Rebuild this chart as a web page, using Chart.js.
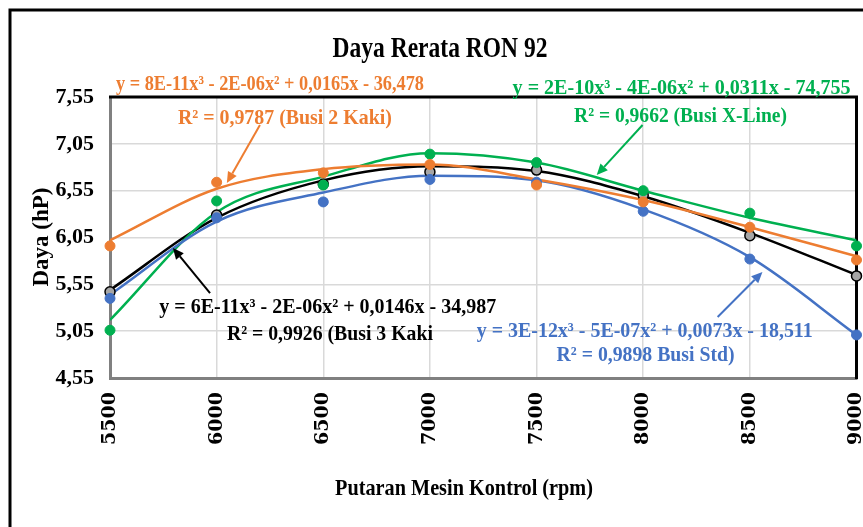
<!DOCTYPE html>
<html>
<head>
<meta charset="utf-8">
<script src="https://cdn.jsdelivr.net/npm/chart.js@4/dist/chart.umd.min.js"></script>
<style>
body { margin: 0; background: #fff; }
</style>
</head>
<body>
<canvas id="grafik" width="863" height="527"></canvas>
<script>
// Putaran mesin (rpm) dan label sumbu Y
var rpm = [5500, 6000, 6500, 7000, 7500, 8000, 8500, 9000];
var yTicks = [4.55, 5.05, 5.55, 6.05, 6.55, 7.05, 7.55];

// Daya rerata (hP) per jenis busi
var busi2Kaki = [5.96, 6.64, 6.74, 6.83, 6.61, 6.43, 6.16, 5.81];
var busiXLine = [5.06, 6.44, 6.61, 6.94, 6.85, 6.55, 6.31, 5.96];
var busi3Kaki = [5.47, 6.29, 6.62, 6.75, 6.77, 6.50, 6.07, 5.64];
var busiStd   = [5.40, 6.26, 6.43, 6.67, 6.64, 6.33, 5.82, 5.01];

// Garis trend polinomial
var trend2Kaki = [6.02, 6.57, 6.78, 6.83, 6.67, 6.45, 6.16, 5.85];
var trendXLine = [5.17, 6.32, 6.70, 6.95, 6.85, 6.55, 6.26, 6.02];
var trend3Kaki = [5.49, 6.26, 6.66, 6.81, 6.76, 6.49, 6.10, 5.65];
var trendStd   = [5.44, 6.22, 6.53, 6.71, 6.66, 6.35, 5.84, 5.01];

var ORANYE = "#ED7D31";
var HIJAU = "#00B050";
var HITAM = "#000000";
var BIRU = "#4472C4";
var SERIF = "'Liberation Serif', 'Times New Roman', serif";

// Teks persamaan (posisi dalam satuan rpm / hP)
var persamaan = [
    { teks: "y = 8E-11x³ - 2E-06x² + 0,0165x - 36,478", warna: ORANYE, x: 6250, y: 7.625, lebar: 308 },
    { teks: "R² = 0,9787 (Busi 2 Kaki)", warna: ORANYE, x: 6320, y: 7.262, lebar: 214 },
    { teks: "y = 2E-10x³ - 4E-06x² + 0,0311x - 74,755", warna: HIJAU, x: 8180, y: 7.582, lebar: 338 },
    { teks: "R² = 0,9662 (Busi X-Line)", warna: HIJAU, x: 8175, y: 7.283, lebar: 213 },
    { teks: "y = 6E-11x³ - 2E-06x² + 0,0146x - 34,987", warna: HITAM, x: 6521, y: 5.244, lebar: 337 },
    { teks: "R² = 0,9926 (Busi 3 Kaki", warna: HITAM, x: 6531, y: 4.956, lebar: 206 },
    { teks: "y = 3E-12x³ - 5E-07x² + 0,0073x - 18,511", warna: BIRU, x: 8007, y: 4.988, lebar: 336 },
    { teks: "R² = 0,9898 Busi Std)", warna: BIRU, x: 8011, y: 4.73, lebar: 178 }
];

// Panah penunjuk garis trend
var panah = [
    { warna: ORANYE, dari: [6203, 7.251], ke: [6048, 6.632] },
    { warna: HIJAU, dari: [7997, 7.251], ke: [7782, 6.717] },
    { warna: HITAM, dari: [5969, 5.457], ke: [5795, 5.938] },
    { warna: BIRU, dari: [8349, 5.201], ke: [8559, 5.682] }
];

function pasangkan(nilai) {
    return nilai.map(function (v, i) { return { x: rpm[i], y: v }; });
}

function datasetTitik(nilai, warna, isi) {
    return {
        type: "line",
        data: pasangkan(nilai),
        showLine: false,
        pointRadius: 5,
        pointBorderWidth: isi ? 1.5 : 1,
        pointBackgroundColor: isi || warna,
        pointBorderColor: warna,
        clip: false,
        order: 0
    };
}

function datasetTrend(nilai, warna) {
    return {
        type: "line",
        data: pasangkan(nilai),
        borderColor: warna,
        borderWidth: 2.5,
        pointRadius: 0,
        cubicInterpolationMode: "monotone",
        order: 1
    };
}

function gambarPanah(ctx, x1, y1, x2, y2, warna) {
    var sudut = Math.atan2(y2 - y1, x2 - x1);
    var p = 11, l = 5;
    ctx.strokeStyle = warna;
    ctx.fillStyle = warna;
    ctx.lineWidth = 2;
    ctx.beginPath();
    ctx.moveTo(x1, y1);
    ctx.lineTo(x2 - Math.cos(sudut) * p, y2 - Math.sin(sudut) * p);
    ctx.stroke();
    ctx.beginPath();
    ctx.moveTo(x2, y2);
    ctx.lineTo(x2 - Math.cos(sudut) * p - Math.sin(sudut) * l, y2 - Math.sin(sudut) * p + Math.cos(sudut) * l);
    ctx.lineTo(x2 - Math.cos(sudut) * p + Math.sin(sudut) * l, y2 - Math.sin(sudut) * p - Math.cos(sudut) * l);
    ctx.closePath();
    ctx.fill();
}

var pluginGambar = {
    id: "gambar",
    beforeDatasetsDraw: function (chart) {
        var ctx = chart.ctx, a = chart.chartArea;
        ctx.save();
        ctx.strokeStyle = "#000";
        ctx.lineWidth = 3;
        ctx.beginPath();
        ctx.moveTo(a.left - 1, a.top);
        ctx.lineTo(a.right, a.top);
        ctx.lineTo(a.right, a.bottom + 1);
        ctx.stroke();
        ctx.restore();
    },
    afterDraw: function (chart) {
        var ctx = chart.ctx;
        var sx = chart.scales.x, sy = chart.scales.y;
        ctx.save();
        // bingkai luar
        ctx.strokeStyle = "#000";
        ctx.lineWidth = 3;
        ctx.strokeRect(10, 10, 900, 600);

        // judul
        ctx.fillStyle = "#000";
        ctx.textAlign = "center";
        ctx.textBaseline = "alphabetic";
        ctx.font = "bold 29px " + SERIF;
        ctx.fillText("Daya Rerata RON 92", 440, 57, 215);

        // judul sumbu X
        ctx.font = "bold 23px " + SERIF;
        ctx.fillText("Putaran Mesin Kontrol (rpm)", 464, 495, 258);

        // judul sumbu Y
        ctx.save();
        ctx.translate(48, 237);
        ctx.rotate(-Math.PI / 2);
        ctx.font = "bold 23px " + SERIF;
        ctx.fillText("Daya (hP)", 0, 0, 113);
        ctx.restore();

        // panah
        panah.forEach(function (p) {
            gambarPanah(ctx,
                sx.getPixelForValue(p.dari[0]), sy.getPixelForValue(p.dari[1]),
                sx.getPixelForValue(p.ke[0]), sy.getPixelForValue(p.ke[1]), p.warna);
        });

        // persamaan trend
        ctx.font = "bold 22px " + SERIF;
        persamaan.forEach(function (e) {
            ctx.fillStyle = e.warna;
            ctx.fillText(e.teks, sx.getPixelForValue(e.x), sy.getPixelForValue(e.y), e.lebar);
        });
        ctx.restore();
    }
};

var ctx = document.getElementById("grafik");
var chart = new Chart(ctx, {
    type: "line",
    data: {
        datasets: [
            datasetTitik(busi2Kaki, ORANYE),
            datasetTitik(busiXLine, HIJAU),
            datasetTitik(busiStd, BIRU),
            datasetTitik(busi3Kaki, HITAM, "#a6a6a6"),
            datasetTrend(trend2Kaki, ORANYE),
            datasetTrend(trendStd, BIRU),
            datasetTrend(trendXLine, HIJAU),
            datasetTrend(trend3Kaki, HITAM)
        ]
    },
    options: {
        responsive: false,
        animation: false,
        layout: { padding: { top: 97, right: 6, left: 0, bottom: 0 } },
        plugins: {
            legend: { display: false },
            title: { display: false },
            tooltip: { enabled: false }
        },
        scales: {
            x: {
                type: "linear",
                min: 5500,
                max: 9000,
                afterBuildTicks: function (s) {
                    s.ticks = rpm.map(function (v) { return { value: v }; });
                },
                afterFit: function (s) {
                    s.height = 149;
                    s.paddingLeft = 0;
                    s.paddingRight = 0;
                },
                ticks: {
                    autoSkip: false,
                    minRotation: 90,
                    maxRotation: 90,
                    padding: 14,
                    color: "#000",
                    font: { family: "'DejaVu Serif', serif", weight: "bold", size: 19 },
                    callback: function (v) { return String(v); }
                },
                grid: { color: "#d9d9d9", lineWidth: 1.5, drawTicks: false },
                border: { color: "#808080", width: 3 }
            },
            y: {
                type: "linear",
                min: 4.55,
                max: 7.55,
                afterBuildTicks: function (s) {
                    s.ticks = yTicks.map(function (v) { return { value: v }; });
                },
                afterFit: function (s) {
                    s.width = 110;
                    s.paddingTop = 0;
                    s.paddingBottom = 0;
                },
                ticks: {
                    padding: 16,
                    color: "#000",
                    font: { family: SERIF, weight: "bold", size: 22 },
                    callback: function (v) { return v.toFixed(2).replace(".", ","); }
                },
                grid: { color: "#d9d9d9", lineWidth: 1.5, drawTicks: false },
                border: { color: "#808080", width: 3 }
            }
        }
    },
    plugins: [pluginGambar]
});
</script>
</body>
</html>
